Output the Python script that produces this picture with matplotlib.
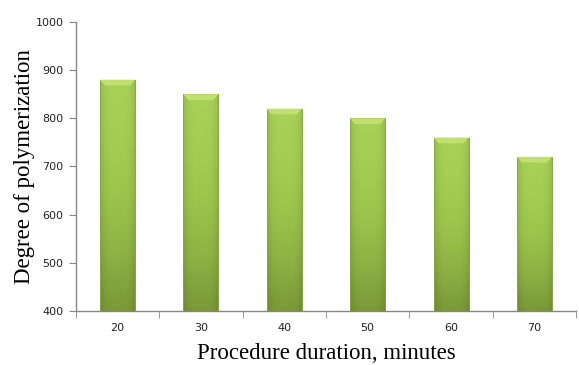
import numpy as np
import matplotlib.pyplot as plt
from matplotlib.colors import LinearSegmentedColormap
from matplotlib.patches import Polygon

durations = ["20", "30", "40", "50", "60", "70"]
polymerization = [880, 850, 820, 800, 760, 720]
y_ticks = [400, 500, 600, 700, 800, 900, 1000]

fig = plt.figure(figsize=(5.79, 3.65), dpi=100)
ax = fig.add_axes([0.131, 0.148, 0.864, 0.792])

x = np.arange(len(durations))
width = 0.42
bars = ax.bar(x, polymerization, width=width, color="none", edgecolor="#8aa84a",
              linewidth=0.6, zorder=3)

# vertical shading: light green at the top, olive at the base
shade = LinearSegmentedColormap.from_list(
    "bar", ["#7a9938", "#8fb244", "#9cc54c", "#a4cd53", "#a8d157"])
# horizontal shading: slightly darker at the edges
cols = np.linspace(-1, 1, 50)
edge = 1 - 0.12 * np.abs(cols) ** 4
for rect in bars:
    x0, w = rect.get_x(), rect.get_width()
    top = rect.get_height()
    grad = np.linspace(0, 1, 200)[:, None] * np.ones((1, 50))
    rgb = shade(grad)[..., :3] * edge[None, :, None]
    im = ax.imshow(rgb, extent=[x0, x0 + w, 400, top], origin="lower",
                   aspect="auto", zorder=2, interpolation="bilinear")
    im.set_clip_path(rect)
    # bevelled cap
    h = 12
    inset = w * 0.14
    cap = Polygon([[x0, top], [x0 + w, top], [x0 + w - inset, top - h],
                   [x0 + inset, top - h]], closed=True,
                  facecolor="#c0e070", edgecolor="none", zorder=4)
    ax.add_patch(cap)

ax.set_xlim(-0.5, len(durations) - 0.5)
ax.set_ylim(400, 1000)
ax.set_yticks(y_ticks)
ax.set_xticks(x)
ax.set_xticklabels(durations)
ax.set_xticks(np.arange(-0.5, len(durations)), minor=True)
ax.tick_params(axis="x", which="major", length=0, pad=9)
ax.tick_params(axis="x", which="minor", length=5, color="#868686", direction="out")
ax.tick_params(axis="y", length=5, color="#868686", direction="out", pad=4)
ax.tick_params(labelsize=8, labelcolor="#222222")

for side in ["top", "right"]:
    ax.spines[side].set_visible(False)
for side in ["left", "bottom"]:
    ax.spines[side].set_color("#868686")
    ax.spines[side].set_linewidth(1.0)

ax.set_xlabel("Procedure duration, minutes", family="Liberation Serif",
              fontsize=16.5, labelpad=7)
ax.set_ylabel("Degree of polymerization", family="Liberation Serif",
              fontsize=16.5, labelpad=0)

fig.savefig("out.png", dpi=100)
